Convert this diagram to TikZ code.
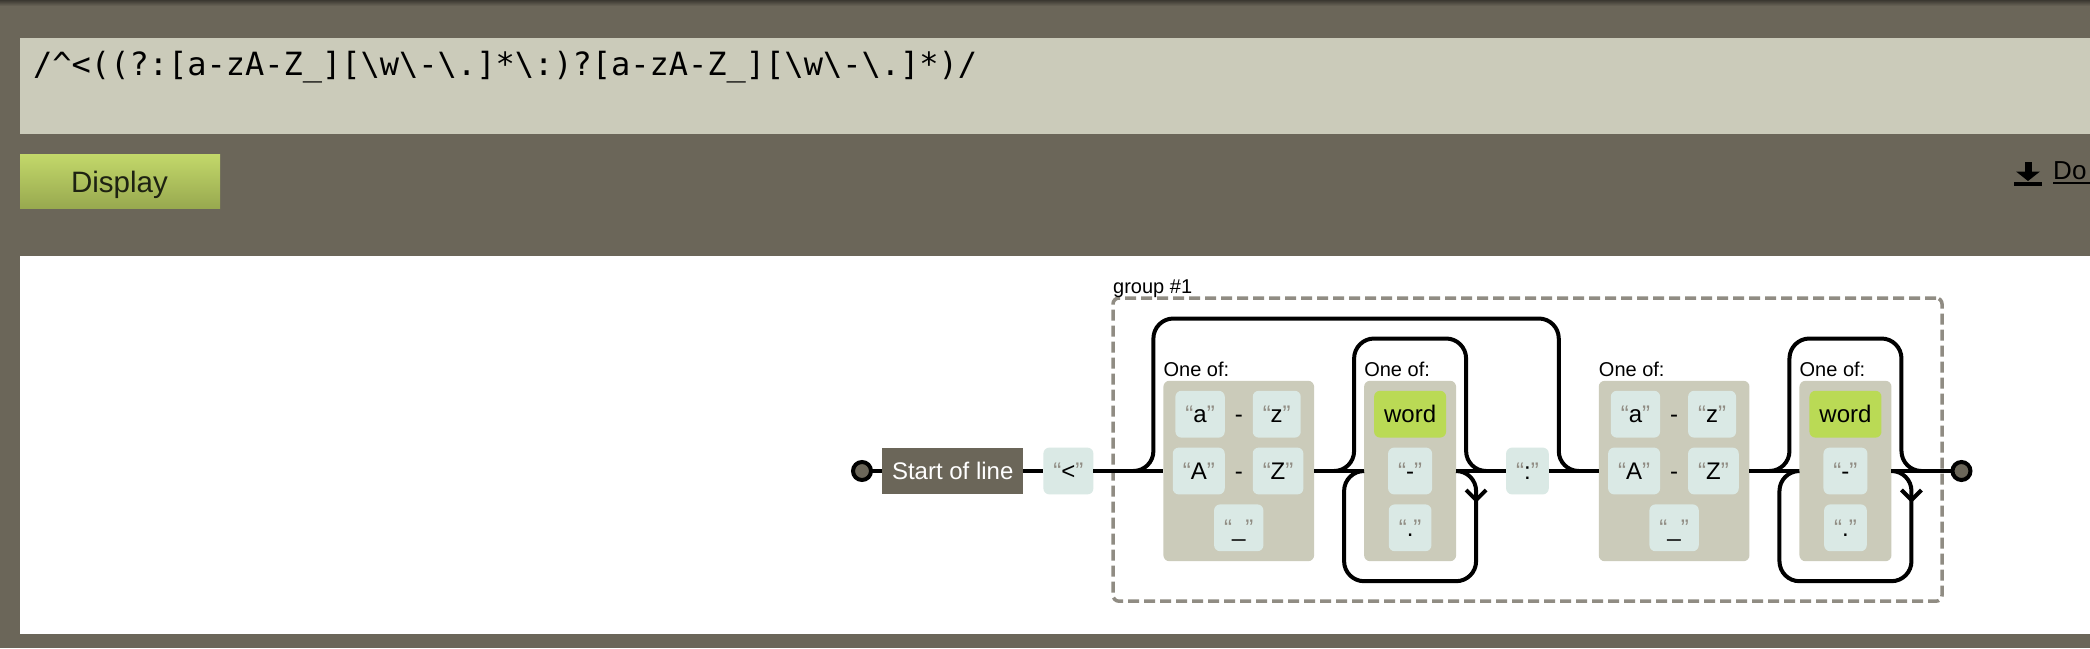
\documentclass[tikz,border=0pt]{standalone}
\usepackage{fontspec}
\setmainfont{Liberation Sans}
\newfontfamily\regexfont{DejaVu Sans Mono}
\usetikzlibrary{positioning}
\definecolor{pagebg}{HTML}{6B6659}
\definecolor{areafill}{HTML}{CBCBBA}
\definecolor{litfill}{HTML}{DAE9E5}
\definecolor{setfill}{HTML}{CBCBBA}
\definecolor{escfill}{HTML}{BADA55}
\definecolor{quotegray}{HTML}{908C83}
\definecolor{btntop}{HTML}{C3D86A}
\definecolor{btnbot}{HTML}{98A94F}
\definecolor{btntext}{HTML}{1E2212}
\newcommand{\qlit}[1]{\textcolor{quotegray}{“}#1\textcolor{quotegray}{”}}
\tikzset{
  rail/.style={draw=black, line width=4pt},
  base/.style={outer sep=0pt, inner xsep=10pt, inner ysep=10pt,
    text height=21.72pt, text depth=5.09pt, font=\fontsize{24pt}{28pt}\selectfont},
  lit/.style={base, fill=litfill, rounded corners=6pt},
  esc/.style={base, fill=escfill, rounded corners=6pt},
  anchorbox/.style={base, fill=pagebg, text=white},
  rangedash/.style={base, inner xsep=0pt},
  oneof/.style={fill=setfill, rounded corners=6pt, outer sep=0pt, minimum height=180.4pt},
  lbl/.style={inner sep=0pt, anchor=south west, text height=18.1pt, text depth=4.24pt,
    font=\fontsize{20pt}{24pt}\selectfont},
  endpt/.style={circle, draw=black, line width=4pt, fill=pagebg, minimum size=18pt,
    inner sep=0pt, outer sep=0pt},
  grpbox/.style={draw=quotegray, line width=3.5pt, dash pattern=on 11pt off 5pt,
    rounded corners=6pt, outer sep=0pt}
}
\begin{document}
\begin{tikzpicture}[x=1pt, y=-1pt]
\useasboundingbox (0,0) rectangle (2090,648);
% page around the diagram
\fill[pagebg] (0,0) rectangle (2090,648);
\shade[top color=black!45!pagebg, bottom color=pagebg] (0,0) rectangle (2090,6);
\fill[areafill] (20,38) rectangle (2090,134);
\node[anchor=base west, inner sep=0pt, font=\regexfont\fontsize{32pt}{36pt}\selectfont] (rx) at (33,75)
  {/\textasciicircum<((?:[a-zA-Z\_][\textbackslash w\textbackslash-\textbackslash.]*\textbackslash:)?[a-zA-Z\_][\textbackslash w\textbackslash-\textbackslash.]*)/};
\shade[top color=btntop, bottom color=btnbot] (20,154) rectangle (220,208);
\node[anchor=base, inner sep=0pt, text=btntext, font=\fontsize{29.5pt}{34pt}\selectfont] (btn) at (119.5,192.7) {Display};
\fill (2024.5,162) rectangle (2031.5,172);
\fill (2016,171.5) -- (2040,171.5) -- (2028,181) -- cycle;
\fill (2014,182) rectangle (2042,186);
\node[anchor=base west, inner sep=0pt, font=\fontsize{26pt}{30pt}\selectfont] (dl) at (2053,179.3) {Do};
\draw[line width=2pt] (2053,182.6) -- (2090,182.6);
\fill[white] (20,256) rectangle (2090,634);

% group #1
\node[grpbox, anchor=north west, minimum width=829pt, minimum height=303.2pt] (grp) at (1113,298) {};
\node[lbl] (grplbl) at (grp.north west) {group \#1};

\node[endpt] (start) at (862,471) {};
\node[anchorbox, right=11pt of start] (sol) {Start of line};
\node[lit, right=20pt of sol] (lt) {\qlit{<}};

% [a-zA-Z_]
\node[oneof, minimum width=150.7pt, right=70pt of lt] (c1) {};
\node[lbl] (c1l) at (c1.north west) {One of:};
\node[rangedash] (c1d1) at ([yshift=56.8pt]c1.center) {-};
\node[lit, left=10pt of c1d1] (c1a) {\qlit{a}};
\node[lit, right=10pt of c1d1] (c1z) {\qlit{z}};
\node[rangedash] (c1d2) at (c1.center) {-};
\node[lit, left=10pt of c1d2] (c1A) {\qlit{A}};
\node[lit, right=10pt of c1d2] (c1Z) {\qlit{Z}};
\node[lit] (c1u) at ([yshift=-56.8pt]c1.center) {\qlit{\_}};

% [\w\-\.]*
\node[oneof, minimum width=92pt, right=50pt of c1] (c2) {};
\node[lbl] (c2l) at (c2.north west) {One of:};
\node[esc] (c2w) at ([yshift=56.8pt]c2.center) {word};
\node[lit] (c2h) at (c2.center) {\qlit{-}};
\node[lit] (c2p) at ([yshift=-56.8pt]c2.center) {\qlit{.}};

\node[lit, right=50pt of c2] (col) {\qlit{:}};

% [a-zA-Z_]
\node[oneof, minimum width=150.7pt, right=50pt of col] (c3) {};
\node[lbl] (c3l) at (c3.north west) {One of:};
\node[rangedash] (c3d1) at ([yshift=56.8pt]c3.center) {-};
\node[lit, left=10pt of c3d1] (c3a) {\qlit{a}};
\node[lit, right=10pt of c3d1] (c3z) {\qlit{z}};
\node[rangedash] (c3d2) at (c3.center) {-};
\node[lit, left=10pt of c3d2] (c3A) {\qlit{A}};
\node[lit, right=10pt of c3d2] (c3Z) {\qlit{Z}};
\node[lit] (c3u) at ([yshift=-56.8pt]c3.center) {\qlit{\_}};

% [\w\-\.]*
\node[oneof, minimum width=92pt, right=50pt of c3] (c4) {};
\node[lbl] (c4l) at (c4.north west) {One of:};
\node[esc] (c4w) at ([yshift=56.8pt]c4.center) {word};
\node[lit] (c4h) at (c4.center) {\qlit{-}};
\node[lit] (c4p) at ([yshift=-56.8pt]c4.center) {\qlit{.}};

\node[endpt, right=61pt of c4] (fin) {};

\draw[rail] (start) -- (sol) (sol) -- (lt) (lt) -- (c1) (c1) -- (c2)
            (c2) -- (col) (col) -- (c3) (c3) -- (c4) (c4) -- (fin);

% (?: ... )?
\draw[rail, rounded corners=20pt] ([xshift=-30pt]c1.west) -- ([xshift=-10pt]c1.west)
  |- ([yshift=62.3pt]c2.north) -| ([xshift=10pt]col.east) -- ([xshift=30pt]col.east);

% * on c2
\draw[rail, rounded corners=20pt] ([xshift=-30pt]c2.west) -- ([xshift=-10pt]c2.west)
  |- ([yshift=42.3pt]c2.north) -| ([xshift=10pt]c2.east) -- ([xshift=30pt]c2.east);
\draw[rail, rounded corners=20pt] (c2.east) -- ([xshift=20pt]c2.east)
  |- ([yshift=-20pt]c2.south) -| ([xshift=-20pt]c2.west) -- (c2.west);
\draw[rail] ([xshift=10pt,yshift=-19pt]c2.east) -- ([xshift=20pt,yshift=-29pt]c2.east)
  -- ([xshift=30pt,yshift=-19pt]c2.east);

% * on c4
\draw[rail, rounded corners=20pt] ([xshift=-30pt]c4.west) -- ([xshift=-10pt]c4.west)
  |- ([yshift=42.3pt]c4.north) -| ([xshift=10pt]c4.east) -- ([xshift=30pt]c4.east);
\draw[rail, rounded corners=20pt] (c4.east) -- ([xshift=20pt]c4.east)
  |- ([yshift=-20pt]c4.south) -| ([xshift=-20pt]c4.west) -- (c4.west);
\draw[rail] ([xshift=10pt,yshift=-19pt]c4.east) -- ([xshift=20pt,yshift=-29pt]c4.east)
  -- ([xshift=30pt,yshift=-19pt]c4.east);
\end{tikzpicture}
\end{document}
